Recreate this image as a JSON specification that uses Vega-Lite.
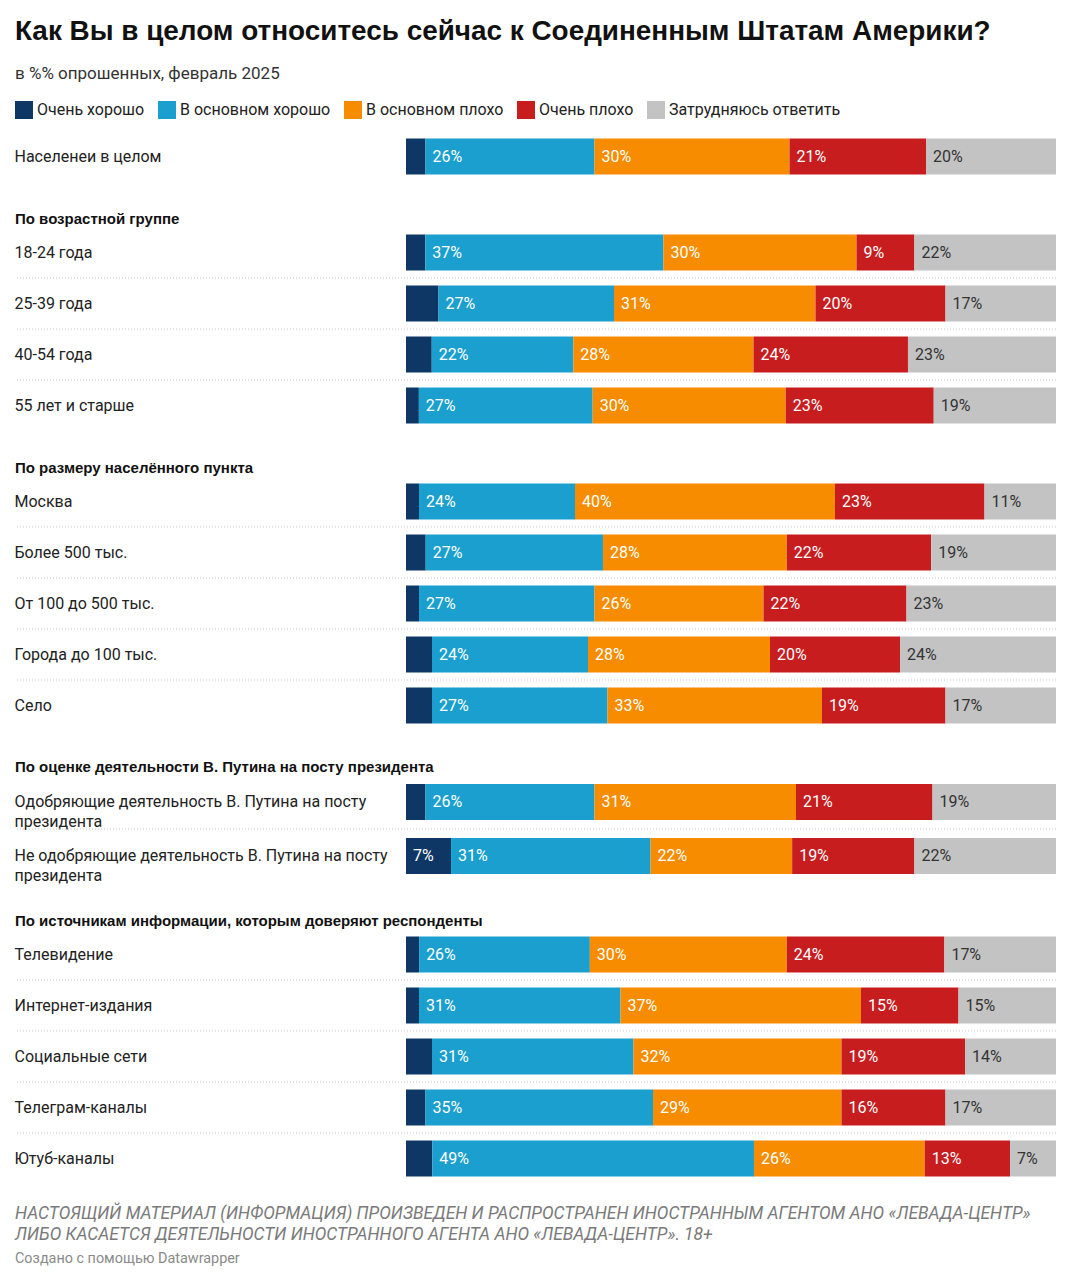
{
  "$schema": "https://vega.github.io/schema/vega-lite/v6.json",
  "background": "white",
  "padding": {"left": 14, "right": 15, "top": 18, "bottom": 6},
  "title": {"text": "Как Вы в целом относитесь сейчас к Соединенным Штатам Америки?", "subtitle": "в %% опрошенных, февраль 2025", "anchor": "start", "frame": "group", "font": "Liberation Sans", "fontSize": 27.9, "fontWeight": "bold", "color": "#111", "subtitleFont": "Roboto", "subtitleFontSize": 17, "subtitleColor": "#333", "subtitlePadding": 20, "offset": 19, "baseline": "top"},
  "config": {
    "view": {"stroke": null},
    "legend": {"orient": "top", "direction": "horizontal", "title": null, "symbolType": "square", "symbolSize": 324, "symbolStrokeWidth": 0, "labelFontSize": 16, "labelFont": "Roboto", "labelColor": "#222", "labelLimit": 400, "columnPadding": 13, "labelOffset": 4, "offset": 12, "padding": 0}
  },
  "data": {"values": [
    {"g":"all","row":"Населенеи в целом","cat":"Очень хорошо","o":1,"value":3},
    {"g":"all","row":"Населенеи в целом","cat":"В основном хорошо","o":2,"value":26},
    {"g":"all","row":"Населенеи в целом","cat":"В основном плохо","o":3,"value":30},
    {"g":"all","row":"Населенеи в целом","cat":"Очень плохо","o":4,"value":21},
    {"g":"all","row":"Населенеи в целом","cat":"Затрудняюсь ответить","o":5,"value":20},
    {"g":"age","row":"18-24 года","cat":"Очень хорошо","o":1,"value":3},
    {"g":"age","row":"18-24 года","cat":"В основном хорошо","o":2,"value":37},
    {"g":"age","row":"18-24 года","cat":"В основном плохо","o":3,"value":30},
    {"g":"age","row":"18-24 года","cat":"Очень плохо","o":4,"value":9},
    {"g":"age","row":"18-24 года","cat":"Затрудняюсь ответить","o":5,"value":22},
    {"g":"age","row":"25-39 года","cat":"Очень хорошо","o":1,"value":5},
    {"g":"age","row":"25-39 года","cat":"В основном хорошо","o":2,"value":27},
    {"g":"age","row":"25-39 года","cat":"В основном плохо","o":3,"value":31},
    {"g":"age","row":"25-39 года","cat":"Очень плохо","o":4,"value":20},
    {"g":"age","row":"25-39 года","cat":"Затрудняюсь ответить","o":5,"value":17},
    {"g":"age","row":"40-54 года","cat":"Очень хорошо","o":1,"value":4},
    {"g":"age","row":"40-54 года","cat":"В основном хорошо","o":2,"value":22},
    {"g":"age","row":"40-54 года","cat":"В основном плохо","o":3,"value":28},
    {"g":"age","row":"40-54 года","cat":"Очень плохо","o":4,"value":24},
    {"g":"age","row":"40-54 года","cat":"Затрудняюсь ответить","o":5,"value":23},
    {"g":"age","row":"55 лет и старше","cat":"Очень хорошо","o":1,"value":2},
    {"g":"age","row":"55 лет и старше","cat":"В основном хорошо","o":2,"value":27},
    {"g":"age","row":"55 лет и старше","cat":"В основном плохо","o":3,"value":30},
    {"g":"age","row":"55 лет и старше","cat":"Очень плохо","o":4,"value":23},
    {"g":"age","row":"55 лет и старше","cat":"Затрудняюсь ответить","o":5,"value":19},
    {"g":"city","row":"Москва","cat":"Очень хорошо","o":1,"value":2},
    {"g":"city","row":"Москва","cat":"В основном хорошо","o":2,"value":24},
    {"g":"city","row":"Москва","cat":"В основном плохо","o":3,"value":40},
    {"g":"city","row":"Москва","cat":"Очень плохо","o":4,"value":23},
    {"g":"city","row":"Москва","cat":"Затрудняюсь ответить","o":5,"value":11},
    {"g":"city","row":"Более 500 тыс.","cat":"Очень хорошо","o":1,"value":3},
    {"g":"city","row":"Более 500 тыс.","cat":"В основном хорошо","o":2,"value":27},
    {"g":"city","row":"Более 500 тыс.","cat":"В основном плохо","o":3,"value":28},
    {"g":"city","row":"Более 500 тыс.","cat":"Очень плохо","o":4,"value":22},
    {"g":"city","row":"Более 500 тыс.","cat":"Затрудняюсь ответить","o":5,"value":19},
    {"g":"city","row":"От 100 до 500 тыс.","cat":"Очень хорошо","o":1,"value":2},
    {"g":"city","row":"От 100 до 500 тыс.","cat":"В основном хорошо","o":2,"value":27},
    {"g":"city","row":"От 100 до 500 тыс.","cat":"В основном плохо","o":3,"value":26},
    {"g":"city","row":"От 100 до 500 тыс.","cat":"Очень плохо","o":4,"value":22},
    {"g":"city","row":"От 100 до 500 тыс.","cat":"Затрудняюсь ответить","o":5,"value":23},
    {"g":"city","row":"Города до 100 тыс.","cat":"Очень хорошо","o":1,"value":4},
    {"g":"city","row":"Города до 100 тыс.","cat":"В основном хорошо","o":2,"value":24},
    {"g":"city","row":"Города до 100 тыс.","cat":"В основном плохо","o":3,"value":28},
    {"g":"city","row":"Города до 100 тыс.","cat":"Очень плохо","o":4,"value":20},
    {"g":"city","row":"Города до 100 тыс.","cat":"Затрудняюсь ответить","o":5,"value":24},
    {"g":"city","row":"Село","cat":"Очень хорошо","o":1,"value":4},
    {"g":"city","row":"Село","cat":"В основном хорошо","o":2,"value":27},
    {"g":"city","row":"Село","cat":"В основном плохо","o":3,"value":33},
    {"g":"city","row":"Село","cat":"Очень плохо","o":4,"value":19},
    {"g":"city","row":"Село","cat":"Затрудняюсь ответить","o":5,"value":17},
    {"g":"putin","row":"Одобряющие деятельность В. Путина на посту президента","cat":"Очень хорошо","o":1,"value":3},
    {"g":"putin","row":"Одобряющие деятельность В. Путина на посту президента","cat":"В основном хорошо","o":2,"value":26},
    {"g":"putin","row":"Одобряющие деятельность В. Путина на посту президента","cat":"В основном плохо","o":3,"value":31},
    {"g":"putin","row":"Одобряющие деятельность В. Путина на посту президента","cat":"Очень плохо","o":4,"value":21},
    {"g":"putin","row":"Одобряющие деятельность В. Путина на посту президента","cat":"Затрудняюсь ответить","o":5,"value":19},
    {"g":"putin","row":"Не одобряющие деятельность В. Путина на посту президента","cat":"Очень хорошо","o":1,"value":7},
    {"g":"putin","row":"Не одобряющие деятельность В. Путина на посту президента","cat":"В основном хорошо","o":2,"value":31},
    {"g":"putin","row":"Не одобряющие деятельность В. Путина на посту президента","cat":"В основном плохо","o":3,"value":22},
    {"g":"putin","row":"Не одобряющие деятельность В. Путина на посту президента","cat":"Очень плохо","o":4,"value":19},
    {"g":"putin","row":"Не одобряющие деятельность В. Путина на посту президента","cat":"Затрудняюсь ответить","o":5,"value":22},
    {"g":"media","row":"Телевидение","cat":"Очень хорошо","o":1,"value":2},
    {"g":"media","row":"Телевидение","cat":"В основном хорошо","o":2,"value":26},
    {"g":"media","row":"Телевидение","cat":"В основном плохо","o":3,"value":30},
    {"g":"media","row":"Телевидение","cat":"Очень плохо","o":4,"value":24},
    {"g":"media","row":"Телевидение","cat":"Затрудняюсь ответить","o":5,"value":17},
    {"g":"media","row":"Интернет-издания","cat":"Очень хорошо","o":1,"value":2},
    {"g":"media","row":"Интернет-издания","cat":"В основном хорошо","o":2,"value":31},
    {"g":"media","row":"Интернет-издания","cat":"В основном плохо","o":3,"value":37},
    {"g":"media","row":"Интернет-издания","cat":"Очень плохо","o":4,"value":15},
    {"g":"media","row":"Интернет-издания","cat":"Затрудняюсь ответить","o":5,"value":15},
    {"g":"media","row":"Социальные сети","cat":"Очень хорошо","o":1,"value":4},
    {"g":"media","row":"Социальные сети","cat":"В основном хорошо","o":2,"value":31},
    {"g":"media","row":"Социальные сети","cat":"В основном плохо","o":3,"value":32},
    {"g":"media","row":"Социальные сети","cat":"Очень плохо","o":4,"value":19},
    {"g":"media","row":"Социальные сети","cat":"Затрудняюсь ответить","o":5,"value":14},
    {"g":"media","row":"Телеграм-каналы","cat":"Очень хорошо","o":1,"value":3},
    {"g":"media","row":"Телеграм-каналы","cat":"В основном хорошо","o":2,"value":35},
    {"g":"media","row":"Телеграм-каналы","cat":"В основном плохо","o":3,"value":29},
    {"g":"media","row":"Телеграм-каналы","cat":"Очень плохо","o":4,"value":16},
    {"g":"media","row":"Телеграм-каналы","cat":"Затрудняюсь ответить","o":5,"value":17},
    {"g":"media","row":"Ютуб-каналы","cat":"Очень хорошо","o":1,"value":4},
    {"g":"media","row":"Ютуб-каналы","cat":"В основном хорошо","o":2,"value":49},
    {"g":"media","row":"Ютуб-каналы","cat":"В основном плохо","o":3,"value":26},
    {"g":"media","row":"Ютуб-каналы","cat":"Очень плохо","o":4,"value":13},
    {"g":"media","row":"Ютуб-каналы","cat":"Затрудняюсь ответить","o":5,"value":7}
  ]},
  "spacing": 20,
  "vconcat": [
    {
      "spacing": 29,
      "vconcat": [
        {
          "width": 1041, "height": {"step": 51},
          "transform": [{"filter": "datum.g === 'all'"}, {"stack": "value", "groupby": ["row"], "sort": [{"field": "o"}], "as": ["x0", "x1"], "offset": "normalize"}],
          "encoding": {"y": {"field": "row", "type": "nominal", "sort": null, "title": null, "scale": {"paddingInner": 0.294, "paddingOuter": 0.147}, "axis": {"domain": false, "ticks": false, "grid": false, "labelAlign": "left", "labelPadding": 1, "labelFontSize": 16, "labelFont": "Roboto", "labelColor": "#222", "labelLimit": 400, "labelLineHeight": 20, "labelExpr": "indexof(datum.label, ' президента') > 0 ? [replace(datum.label, ' президента', ''), 'президента'] : datum.label"}}},
          "layer": [
            {"mark": {"type": "bar"}, "encoding": {"x": {"field": "x0", "type": "quantitative", "scale": {"domain": [0, 1], "range": [391, 1041], "nice": false}, "axis": null}, "x2": {"field": "x1"}, "color": {"field": "cat", "type": "nominal", "scale": {"domain": ["Очень хорошо", "В основном хорошо", "В основном плохо", "Очень плохо", "Затрудняюсь ответить"], "range": ["#0f3766", "#1b9fcf", "#f88c00", "#c81d1f", "#c3c3c3"]}, "legend": {"orient": "top"}}}},
            {"transform": [{"filter": "datum.value >= 6"}], "mark": {"type": "text", "align": "left", "baseline": "middle", "dx": 7, "fontSize": 16, "font": "Roboto", "text": {"expr": "datum.value + '%'"}}, "encoding": {"x": {"field": "x0", "type": "quantitative"}, "color": {"condition": {"test": "datum.cat === 'Затрудняюсь ответить'", "value": "#333"}, "value": "#ffffff"}}}
          ]
        },
        {
          "title": {"text": "По возрастной группе", "anchor": "start", "frame": "group", "font": "Liberation Sans", "fontSize": 15, "fontWeight": "bold", "color": "#111", "offset": -12, "baseline": "alphabetic"},
          "width": 1041, "height": {"step": 51},
          "transform": [{"filter": "datum.g === 'age'"}, {"stack": "value", "groupby": ["row"], "sort": [{"field": "o"}], "as": ["x0", "x1"], "offset": "normalize"}],
          "encoding": {"y": {"field": "row", "type": "nominal", "sort": null, "title": null, "scale": {"paddingInner": 0.294, "paddingOuter": 0.147}, "axis": {"domain": false, "ticks": false, "grid": false, "labelAlign": "left", "labelPadding": 1, "labelFontSize": 16, "labelFont": "Roboto", "labelColor": "#222", "labelLimit": 400, "labelLineHeight": 20, "labelExpr": "indexof(datum.label, ' президента') > 0 ? [replace(datum.label, ' президента', ''), 'президента'] : datum.label"}}},
          "layer": [
            {"mark": {"type": "bar"}, "encoding": {"x": {"field": "x0", "type": "quantitative", "scale": {"domain": [0, 1], "range": [391, 1041], "nice": false}, "axis": null}, "x2": {"field": "x1"}, "color": {"field": "cat", "type": "nominal", "scale": {"domain": ["Очень хорошо", "В основном хорошо", "В основном плохо", "Очень плохо", "Затрудняюсь ответить"], "range": ["#0f3766", "#1b9fcf", "#f88c00", "#c81d1f", "#c3c3c3"]}, "legend": {"orient": "top"}}}},
            {"transform": [{"filter": "datum.cat === 'Очень хорошо'"}], "mark": {"type": "rule", "color": "#c8c8c8", "strokeDash": [1, 2], "strokeWidth": 1, "yOffset": -7.5}, "encoding": {"y": {"field": "row", "type": "nominal", "sort": null, "bandPosition": 0}, "strokeOpacity": {"condition": {"test": "datum.row === '18-24 года'", "value": 0}, "value": 1}}},
            {"transform": [{"filter": "datum.value >= 6"}], "mark": {"type": "text", "align": "left", "baseline": "middle", "dx": 7, "fontSize": 16, "font": "Roboto", "text": {"expr": "datum.value + '%'"}}, "encoding": {"x": {"field": "x0", "type": "quantitative"}, "color": {"condition": {"test": "datum.cat === 'Затрудняюсь ответить'", "value": "#333"}, "value": "#ffffff"}}}
          ]
        },
        {
          "title": {"text": "По размеру населённого пункта", "anchor": "start", "frame": "group", "font": "Liberation Sans", "fontSize": 15, "fontWeight": "bold", "color": "#111", "offset": -12, "baseline": "alphabetic"},
          "width": 1041, "height": {"step": 51},
          "transform": [{"filter": "datum.g === 'city'"}, {"stack": "value", "groupby": ["row"], "sort": [{"field": "o"}], "as": ["x0", "x1"], "offset": "normalize"}],
          "encoding": {"y": {"field": "row", "type": "nominal", "sort": null, "title": null, "scale": {"paddingInner": 0.294, "paddingOuter": 0.147}, "axis": {"domain": false, "ticks": false, "grid": false, "labelAlign": "left", "labelPadding": 1, "labelFontSize": 16, "labelFont": "Roboto", "labelColor": "#222", "labelLimit": 400, "labelLineHeight": 20, "labelExpr": "indexof(datum.label, ' президента') > 0 ? [replace(datum.label, ' президента', ''), 'президента'] : datum.label"}}},
          "layer": [
            {"mark": {"type": "bar"}, "encoding": {"x": {"field": "x0", "type": "quantitative", "scale": {"domain": [0, 1], "range": [391, 1041], "nice": false}, "axis": null}, "x2": {"field": "x1"}, "color": {"field": "cat", "type": "nominal", "scale": {"domain": ["Очень хорошо", "В основном хорошо", "В основном плохо", "Очень плохо", "Затрудняюсь ответить"], "range": ["#0f3766", "#1b9fcf", "#f88c00", "#c81d1f", "#c3c3c3"]}, "legend": {"orient": "top"}}}},
            {"transform": [{"filter": "datum.cat === 'Очень хорошо'"}], "mark": {"type": "rule", "color": "#c8c8c8", "strokeDash": [1, 2], "strokeWidth": 1, "yOffset": -7.5}, "encoding": {"y": {"field": "row", "type": "nominal", "sort": null, "bandPosition": 0}, "strokeOpacity": {"condition": {"test": "datum.row === 'Москва'", "value": 0}, "value": 1}}},
            {"transform": [{"filter": "datum.value >= 6"}], "mark": {"type": "text", "align": "left", "baseline": "middle", "dx": 7, "fontSize": 16, "font": "Roboto", "text": {"expr": "datum.value + '%'"}}, "encoding": {"x": {"field": "x0", "type": "quantitative"}, "color": {"condition": {"test": "datum.cat === 'Затрудняюсь ответить'", "value": "#333"}, "value": "#ffffff"}}}
          ]
        },
        {
          "title": {"text": "По оценке деятельности В. Путина на посту президента", "anchor": "start", "frame": "group", "font": "Liberation Sans", "fontSize": 15, "fontWeight": "bold", "color": "#111", "offset": -12, "baseline": "alphabetic"},
          "width": 1041, "height": {"step": 54},
          "transform": [{"filter": "datum.g === 'putin'"}, {"stack": "value", "groupby": ["row"], "sort": [{"field": "o"}], "as": ["x0", "x1"], "offset": "normalize"}],
          "encoding": {"y": {"field": "row", "type": "nominal", "sort": null, "title": null, "scale": {"paddingInner": 0.333, "paddingOuter": 0.1667}, "axis": {"domain": false, "ticks": false, "grid": false, "labelAlign": "left", "labelPadding": 1, "labelFontSize": 16, "labelFont": "Roboto", "labelColor": "#222", "labelLimit": 400, "labelLineHeight": 20, "labelExpr": "indexof(datum.label, ' президента') > 0 ? [replace(datum.label, ' президента', ''), 'президента'] : datum.label"}}},
          "layer": [
            {"mark": {"type": "bar"}, "encoding": {"x": {"field": "x0", "type": "quantitative", "scale": {"domain": [0, 1], "range": [391, 1041], "nice": false}, "axis": null}, "x2": {"field": "x1"}, "color": {"field": "cat", "type": "nominal", "scale": {"domain": ["Очень хорошо", "В основном хорошо", "В основном плохо", "Очень плохо", "Затрудняюсь ответить"], "range": ["#0f3766", "#1b9fcf", "#f88c00", "#c81d1f", "#c3c3c3"]}, "legend": {"orient": "top"}}}},
            {"transform": [{"filter": "datum.cat === 'Очень хорошо'"}], "mark": {"type": "rule", "color": "#c8c8c8", "strokeDash": [1, 2], "strokeWidth": 1, "yOffset": -9}, "encoding": {"y": {"field": "row", "type": "nominal", "sort": null, "bandPosition": 0}, "strokeOpacity": {"condition": {"test": "indexof(datum.row, 'Одобряющие') === 0", "value": 0}, "value": 1}}},
            {"transform": [{"filter": "datum.value >= 6"}], "mark": {"type": "text", "align": "left", "baseline": "middle", "dx": 7, "fontSize": 16, "font": "Roboto", "text": {"expr": "datum.value + '%'"}}, "encoding": {"x": {"field": "x0", "type": "quantitative"}, "color": {"condition": {"test": "datum.cat === 'Затрудняюсь ответить'", "value": "#333"}, "value": "#ffffff"}}}
          ]
        },
        {
          "title": {"text": "По источникам информации, которым доверяют респонденты", "anchor": "start", "frame": "group", "font": "Liberation Sans", "fontSize": 15, "fontWeight": "bold", "color": "#111", "offset": -12, "baseline": "alphabetic"},
          "width": 1041, "height": {"step": 51},
          "transform": [{"filter": "datum.g === 'media'"}, {"stack": "value", "groupby": ["row"], "sort": [{"field": "o"}], "as": ["x0", "x1"], "offset": "normalize"}],
          "encoding": {"y": {"field": "row", "type": "nominal", "sort": null, "title": null, "scale": {"paddingInner": 0.294, "paddingOuter": 0.147}, "axis": {"domain": false, "ticks": false, "grid": false, "labelAlign": "left", "labelPadding": 1, "labelFontSize": 16, "labelFont": "Roboto", "labelColor": "#222", "labelLimit": 400, "labelLineHeight": 20, "labelExpr": "indexof(datum.label, ' президента') > 0 ? [replace(datum.label, ' президента', ''), 'президента'] : datum.label"}}},
          "layer": [
            {"mark": {"type": "bar"}, "encoding": {"x": {"field": "x0", "type": "quantitative", "scale": {"domain": [0, 1], "range": [391, 1041], "nice": false}, "axis": null}, "x2": {"field": "x1"}, "color": {"field": "cat", "type": "nominal", "scale": {"domain": ["Очень хорошо", "В основном хорошо", "В основном плохо", "Очень плохо", "Затрудняюсь ответить"], "range": ["#0f3766", "#1b9fcf", "#f88c00", "#c81d1f", "#c3c3c3"]}, "legend": {"orient": "top"}}}},
            {"transform": [{"filter": "datum.cat === 'Очень хорошо'"}], "mark": {"type": "rule", "color": "#c8c8c8", "strokeDash": [1, 2], "strokeWidth": 1, "yOffset": -7.5}, "encoding": {"y": {"field": "row", "type": "nominal", "sort": null, "bandPosition": 0}, "strokeOpacity": {"condition": {"test": "datum.row === 'Телевидение'", "value": 0}, "value": 1}}},
            {"transform": [{"filter": "datum.value >= 6"}], "mark": {"type": "text", "align": "left", "baseline": "middle", "dx": 7, "fontSize": 16, "font": "Roboto", "text": {"expr": "datum.value + '%'"}}, "encoding": {"x": {"field": "x0", "type": "quantitative"}, "color": {"condition": {"test": "datum.cat === 'Затрудняюсь ответить'", "value": "#333"}, "value": "#ffffff"}}}
          ]
        }
      ]
    },
    {
      "title": {"text": ["НАСТОЯЩИЙ МАТЕРИАЛ (ИНФОРМАЦИЯ) ПРОИЗВЕДЕН И РАСПРОСТРАНЕН ИНОСТРАННЫМ АГЕНТОМ АНО «ЛЕВАДА-ЦЕНТР»", "ЛИБО КАСАЕТСЯ ДЕЯТЕЛЬНОСТИ ИНОСТРАННОГО АГЕНТА АНО «ЛЕВАДА-ЦЕНТР». 18+"], "subtitle": "Создано с помощью Datawrapper", "anchor": "start", "frame": "group", "font": "Roboto", "fontSize": 17.4, "fontWeight": "normal", "fontStyle": "italic", "color": "#7a7a7a", "lineHeight": 21, "subtitleFont": "Roboto", "subtitleFontSize": 14.4, "subtitleColor": "#8a8a8a", "subtitlePadding": 9, "baseline": "top", "offset": 0},
      "width": 1041, "height": 1,
      "data": {"values": [{"t": ""}]},
      "mark": {"type": "text"},
      "encoding": {"text": {"field": "t"}}
    }
  ]
}
